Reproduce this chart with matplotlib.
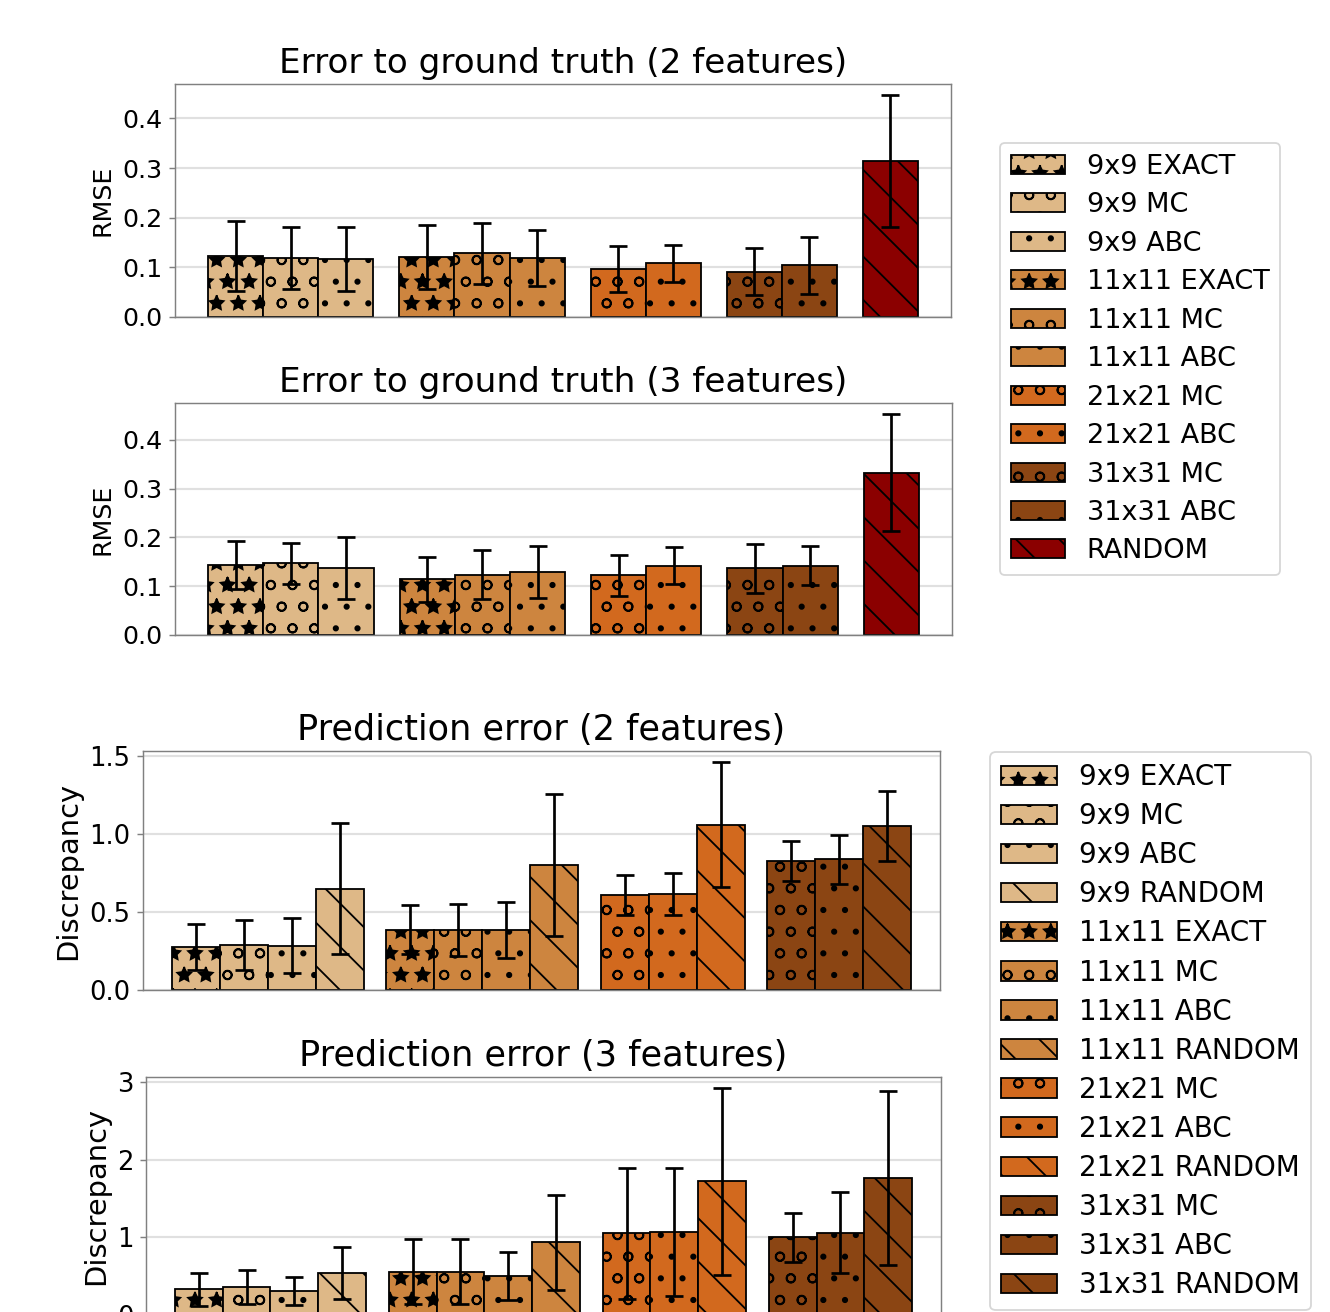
import numpy as np
import matplotlib
matplotlib.use("Agg")
import matplotlib.pyplot as plt
from matplotlib.patches import Patch
from matplotlib.ticker import MultipleLocator

# ground truth error, top figure
gt_labels = ['9x9 EXACT', '9x9 MC', '9x9 ABC',
             '11x11 EXACT', '11x11 MC', '11x11 ABC',
             '21x21 MC', '21x21 ABC',
             '31x31 MC', '31x31 ABC',
             'RANDOM']
gt_groups = [0, 0, 0, 1, 1, 1, 2, 2, 3, 3, 4]
gt2_mean = [0.123, 0.119, 0.117, 0.121, 0.128, 0.119, 0.097, 0.108, 0.091, 0.104, 0.314]
gt2_err = [0.070, 0.062, 0.064, 0.064, 0.062, 0.056, 0.047, 0.038, 0.047, 0.057, 0.133]
gt3_mean = [0.143, 0.147, 0.137, 0.114, 0.124, 0.129, 0.122, 0.142, 0.137, 0.142, 0.333]
gt3_err = [0.049, 0.042, 0.064, 0.046, 0.051, 0.053, 0.043, 0.038, 0.050, 0.040, 0.120]

# prediction error, bottom figure
pred_labels = ['9x9 EXACT', '9x9 MC', '9x9 ABC', '9x9 RANDOM',
               '11x11 EXACT', '11x11 MC', '11x11 ABC', '11x11 RANDOM',
               '21x21 MC', '21x21 ABC', '21x21 RANDOM',
               '31x31 MC', '31x31 ABC', '31x31 RANDOM']
pred_groups = [0, 0, 0, 0, 1, 1, 1, 1, 2, 2, 2, 3, 3, 3]
pred2_mean = [0.275, 0.29, 0.284, 0.65, 0.387, 0.387, 0.387, 0.80, 0.608, 0.617, 1.059, 0.826, 0.837, 1.05]
pred2_err = [0.145, 0.16, 0.176, 0.42, 0.157, 0.166, 0.18, 0.455, 0.128, 0.136, 0.40, 0.13, 0.158, 0.224]
pred3_mean = [0.33, 0.36, 0.31, 0.545, 0.56, 0.56, 0.50, 0.935, 1.05, 1.07, 1.72, 1.0, 1.06, 1.77]
pred3_err = [0.215, 0.215, 0.18, 0.335, 0.42, 0.42, 0.31, 0.61, 0.85, 0.83, 1.2, 0.32, 0.52, 1.12]

size_colors = {'9x9': 'burlywood', '11x11': 'peru', '21x21': 'chocolate',
               '31x31': 'saddlebrown', 'RANDOM': 'darkred'}
method_hatch = {'EXACT': '*', 'MC': 'o', 'ABC': '.', 'RANDOM': '\\'}


def style(label):
    parts = label.split()
    color = size_colors[parts[0]]
    hatch = method_hatch[parts[-1]]
    return color, hatch


def positions(groups, gap=0.47):
    return np.arange(len(groups)) + np.array(groups) * gap


def draw(ax, labels, groups, mean, err, title, ylabel, scale=1.0, ylabel_size=14):
    x = positions(groups)
    for xi, lab, m, e in zip(x, labels, mean, err):
        c, h = style(lab)
        ax.bar(xi, m, width=1.0, color=c, edgecolor='black', linewidth=1.0,
               hatch=h, yerr=e, capsize=5,
               error_kw=dict(elinewidth=1.5, capthick=1.5, ecolor='black'), zorder=2)
    ax.set_xlim(x[0] - 0.5 - 0.6, x[-1] + 0.5 + 0.6)
    ax.set_xticks([])
    ax.set_title(title, fontsize=19 * scale, pad=6)
    ax.set_ylabel(ylabel, fontsize=ylabel_size)
    ax.tick_params(axis='y', labelsize=14 * scale, color='0.5', length=3.5)
    ax.yaxis.grid(True, color='0.88', linewidth=1.2, zorder=0)
    ax.set_axisbelow(True)
    for sp in ax.spines.values():
        sp.set_color('0.5')


def legend_handles(labels):
    hs = []
    for lab in labels:
        c, h = style(lab)
        hs.append(Patch(facecolor=c, edgecolor='black', hatch=h, label=lab))
    return hs


W, H = 1330, 1312
fig = plt.figure(figsize=(W / 130, H / 130), dpi=130)


def box(l, r, t, b):
    return [l / W, 1 - b / H, (r - l) / W, (b - t) / H]


ax1 = fig.add_axes(box(175, 951, 84, 317))
ax2 = fig.add_axes(box(175, 952, 403, 635))
ax3 = fig.add_axes(box(143, 940, 751, 990))
ax4 = fig.add_axes(box(146, 941, 1077, 1315))

draw(ax1, gt_labels, gt_groups, gt2_mean, gt2_err, 'Error to ground truth (2 features)', 'RMSE')
draw(ax2, gt_labels, gt_groups, gt3_mean, gt3_err, 'Error to ground truth (3 features)', 'RMSE')
draw(ax3, pred_labels, pred_groups, pred2_mean, pred2_err, 'Prediction error (2 features)',
     'Discrepancy', scale=1.023, ylabel_size=16)
draw(ax4, pred_labels, pred_groups, pred3_mean, pred3_err, 'Prediction error (3 features)',
     'Discrepancy', scale=1.023, ylabel_size=16)
for ax in (ax1, ax2):
    ax.yaxis.set_major_locator(MultipleLocator(0.1))

fig.legend(handles=legend_handles(gt_labels), loc='upper left',
           bbox_to_anchor=(1000 / W, 1 - 143 / H), borderaxespad=0,
           fontsize=15, labelspacing=0.46)
fig.legend(handles=legend_handles(pred_labels), loc='upper left',
           bbox_to_anchor=(990 / W, 1 - 752 / H), borderaxespad=0,
           fontsize=15.35, labelspacing=0.40)

fig.savefig('out.png', dpi=130)
